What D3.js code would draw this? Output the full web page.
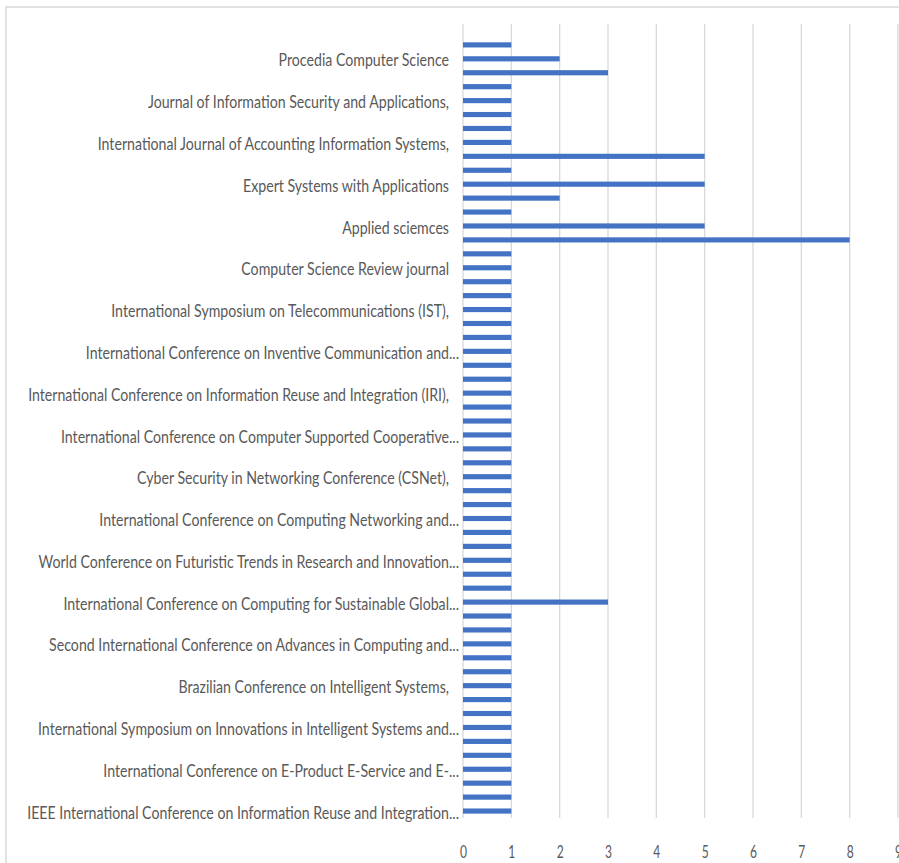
<!DOCTYPE html>
<html lang="en">
<head>
    <meta charset="UTF-8">
    <script src="https://d3js.org/d3.v7.min.js"></script>
    <style>
        body {margin: 0; background-color: #ffffff}
        svg {display: block}
        .tick text {font-family: Lato, "Open Sans", sans-serif; fill: #595959}
    </style>
</head>
<body>
<svg class="overall_chart"></svg>
<script type="text/javascript">
    // rows from top to bottom; the chart only prints every third category name
    const categories = [
        "", "", "Procedia Computer Science",
        "", "", "Journal of Information Security and Applications,",
        "", "", "International Journal of Accounting Information Systems,",
        "", "", "Expert Systems with Applications",
        "", "", "Applied sciemces",
        "", "", "Computer Science Review journal",
        "", "", "International Symposium on Telecommunications (IST),",
        "", "", "International Conference on Inventive Communication and...",
        "", "", "International Conference on Information Reuse and Integration (IRI),",
        "", "", "International Conference on Computer Supported Cooperative...",
        "", "", "Cyber Security in Networking Conference (CSNet),",
        "", "", "International Conference on Computing Networking and...",
        "", "", "World Conference on Futuristic Trends in Research and Innovation...",
        "", "", "International Conference on Computing for Sustainable Global...",
        "", "", "Second International Conference on Advances in Computing and...",
        "", "", "Brazilian Conference on Intelligent Systems,",
        "", "", "International Symposium on Innovations in Intelligent Systems and...",
        "", "", "International Conference on E-Product E-Service and E-...",
        "", "", "IEEE International Conference on Information Reuse and Integration..."
    ];
    const counts = [
        0, 1, 2, 3, 1, 1, 1, 1, 1, 5, 1, 5, 2, 1, 5, 8, 1,
        1, 1, 1, 1, 1, 1, 1, 1, 1, 1, 1, 1,
        1, 1, 1, 1, 1, 1, 1, 1, 1, 1, 1, 1,
        3,
        1, 1, 1, 1, 1, 1, 1, 1, 1, 1, 1, 1, 1, 1, 1
    ];
    const x_ticks = [0, 1, 2, 3, 4, 5, 6, 7, 8, 9];

    let chart_width = 899, chart_height = 863;
    let plot_left = 463, plot_right = 898, plot_top = 24, plot_bottom = 818;

    var svg = d3.select(".overall_chart").attr("width", chart_width).attr("height", chart_height);

    // chart frame, cut off at the right and bottom like the screenshot
    svg.append("rect")
        .attr("x", 6).attr("y", 7)
        .attr("width", chart_width + 20).attr("height", chart_height + 20)
        .attr("fill", "none").attr("stroke", "#d9d9d9").attr("stroke-width", 1.5);

    var x = d3.scaleLinear().domain([0, 9]).range([plot_left, plot_right]);
    var y = d3.scaleBand().domain(d3.range(categories.length)).range([plot_top, plot_bottom]).paddingInner(0.63).paddingOuter(0.315);

    svg.append("g").selectAll("line")
        .data(x_ticks)
        .join("line")
        .attr("x1", d => x(d)).attr("x2", d => x(d))
        .attr("y1", plot_top).attr("y2", plot_bottom)
        .attr("stroke", "#d9d9d9").attr("stroke-width", 1.3);

    svg.append("g").selectAll("rect")
        .data(counts)
        .join("rect")
        .attr("x", x(0))
        .attr("y", (d, i) => y(i))
        .attr("height", y.bandwidth())
        .attr("width", d => x(d) - x(0))
        .attr("fill", "#4472c4");

    // measure once, then squeeze all text horizontally like the narrow original
    let probe = svg.append("text").style("font-family", "Lato").style("font-size", "18px")
        .text(categories[categories.length - 1]);
    let squeeze = 432 / probe.node().getComputedTextLength();
    probe.remove();

    let y_axis = svg.append("g")
        .attr("transform", "translate(" + plot_left + ",0)")
        .call(d3.axisLeft(y)
            .tickValues(d3.range(categories.length).filter(i => categories[i] !== ""))
            .tickFormat(i => categories[i])
            .tickSize(0));
    y_axis.select(".domain").remove();
    y_axis.selectAll(".tick text")
        .style("font-size", "18px")
        .attr("dy", "0.42em")
        .attr("x", function (i) {
            let gap = categories[i].endsWith("...") ? 4 : 14;
            return -gap / squeeze;
        })
        .attr("transform", "scale(" + squeeze + ",1)");

    let x_axis = svg.append("g")
        .attr("transform", "translate(0," + plot_bottom + ")")
        .call(d3.axisBottom(x).tickValues(x_ticks).tickFormat(d3.format("d")).tickSize(0));
    x_axis.select(".domain").remove();
    x_axis.selectAll(".tick text")
        .style("font-size", "18px")
        .attr("y", 0)
        .attr("dy", 40)
        .attr("transform", "scale(" + (squeeze * 0.85) + ",1)");
</script>
</body>
</html>
